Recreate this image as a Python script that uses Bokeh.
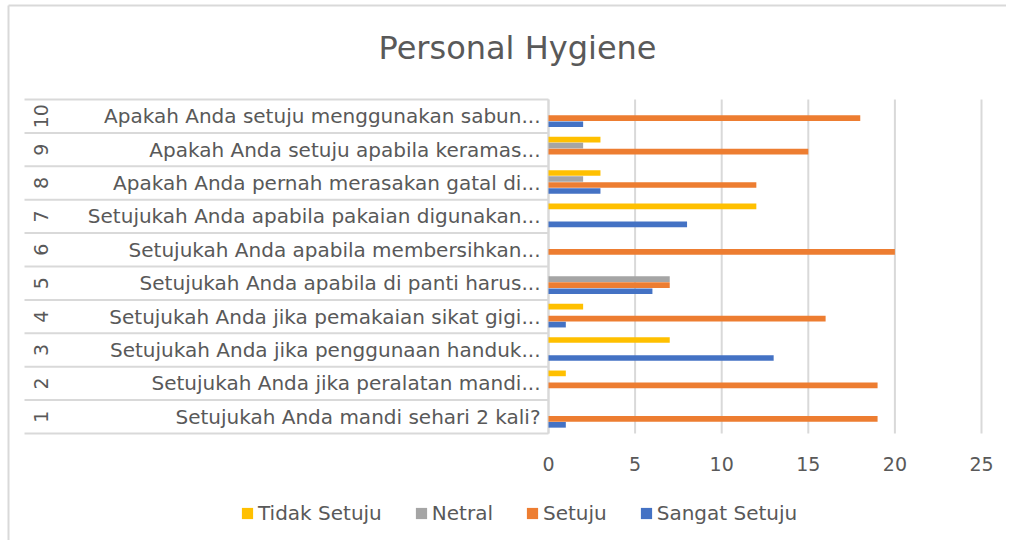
from bokeh.plotting import figure
from bokeh.models import ColumnDataSource, Range1d, Legend, LegendItem
from bokeh.transform import dodge
from bokeh.core.properties import value
from bokeh.embed import file_html
from bokeh.resources import INLINE

# ---- data ----
numbers = ["1", "2", "3", "4", "5", "6", "7", "8", "9", "10"]
questions = [
    "Setujukah Anda mandi sehari 2 kali?",
    "Setujukah Anda jika peralatan mandi...",
    "Setujukah Anda jika penggunaan handuk...",
    "Setujukah Anda jika pemakaian sikat gigi...",
    "Setujukah Anda apabila di panti harus...",
    "Setujukah Anda apabila membersihkan...",
    "Setujukah Anda apabila pakaian digunakan...",
    "Apakah Anda pernah merasakan gatal di...",
    "Apakah Anda setuju apabila keramas...",
    "Apakah Anda setuju menggunakan sabun...",
]
sangat_setuju = [1, 0, 13, 1, 6, 0, 8, 3, 0, 2]
setuju = [19, 19, 0, 16, 7, 20, 0, 12, 15, 18]
netral = [0, 0, 0, 0, 7, 0, 0, 2, 2, 0]
tidak_setuju = [0, 1, 7, 2, 0, 0, 12, 3, 3, 0]
series_names = ["Tidak Setuju", "Netral", "Setuju", "Sangat Setuju"]
x_ticks = [0, 5, 10, 15, 20, 25]
title_text = "Personal Hygiene"

# ---- styles ----
FONT = "DejaVu Sans"
TXT = "#595959"
GRID = "#d9d9d9"
colors = {"Tidak Setuju": "#FFC000", "Netral": "#A5A5A5", "Setuju": "#ED7D31", "Sangat Setuju": "#4472C4"}
offsets = {"Tidak Setuju": 0.30, "Netral": 0.12, "Setuju": -0.06, "Sangat Setuju": -0.24}
cols = {"Tidak Setuju": "tidak", "Netral": "netral", "Setuju": "setuju", "Sangat Setuju": "sangat"}

ypos = [float(n) for n in numbers]
src = ColumnDataSource(dict(
    y=ypos, num=numbers, q=questions,
    tidak=tidak_setuju, netral=netral, setuju=setuju, sangat=sangat_setuju,
))

W, H = 1006, 540
px_x = 17.32          # pixels per value unit
px_y = 33.4           # pixels per category band
x0_px, yb_px = 548, 433   # canvas position of value 0 and of the bottom band edge
x_left = -x0_px / px_x
x_right = (W - x0_px) / px_x
y_bottom = 0.5 - (H - yb_px) / px_y
y_top = 0.5 + yb_px / px_y


def sx(px):
    return (px - x0_px) / px_x


def sy(py):
    return 0.5 + (yb_px - py) / px_y


p = figure(width=W, height=H, x_range=Range1d(x_left, x_right), y_range=Range1d(y_bottom, y_top),
           output_backend="svg", toolbar_location=None, x_axis_location=None, y_axis_location=None,
           min_border=0)
p.outline_line_color = None
p.background_fill_color = "white"
p.border_fill_color = "white"
p.grid.visible = False

# chart-area border (top and left edges visible in the reference)
p.segment(x0=[sx(8), sx(8)], x1=[sx(1010), sx(8)], y0=[sy(5), sy(5)], y1=[sy(5), sy(548)],
          line_color=GRID, line_width=2)

# value gridlines (from tick list)
p.segment(x0=x_ticks, x1=x_ticks, y0=[0.5] * len(x_ticks), y1=[10.5] * len(x_ticks),
          line_color=GRID, line_width=2)
# tick labels
p.text(x=x_ticks, y=[sy(463)] * len(x_ticks), text=[str(t) for t in x_ticks],
       text_align="center", text_baseline="middle", text_font=value(FONT),
       text_font_size="19px", text_color=TXT)

# table lines for category labels
bounds = [i + 0.5 for i in range(0, 11)]
p.segment(x0=[sx(24)] * len(bounds), x1=[0] * len(bounds), y0=bounds, y1=bounds,
          line_color=GRID, line_width=2)
p.segment(x0=[0], x1=[0], y0=[0.5], y1=[10.5], line_color=GRID, line_width=2)

# bars
items = []
for name in series_names:
    r = p.hbar(y=dodge("y", offsets[name]), right=cols[name], left=0, height=0.17, source=src,
               fill_color=colors[name], line_color=None)
    items.append(LegendItem(label=name, renderers=[r]))

# category labels
p.text(x=sx(40), y="y", text="num", source=src, angle=1.5708, text_align="center",
       text_baseline="middle", text_font=value(FONT), text_font_size="19px", text_color=TXT)
p.text(x=sx(540), y="y", text="q", source=src, text_align="right",
       text_baseline="middle", text_font=value(FONT), text_font_size="20px", text_color=TXT)

# title
p.text(x=[sx(517)], y=[sy(47)], text=[title_text],
       text_align="center", text_baseline="middle", text_font=value(FONT),
       text_font_size="32px", text_color=TXT)

# legend
leg = Legend(items=items, orientation="horizontal", location=(240, 15),
             label_text_font=FONT, label_text_font_size="20px", label_text_color=TXT,
             glyph_width=14, glyph_height=14, label_standoff=4, spacing=32,
             margin=0, padding=4, border_line_color=None, background_fill_alpha=0)
p.add_layout(leg, "center")

open("out.html", "w").write(file_html(p, INLINE))
